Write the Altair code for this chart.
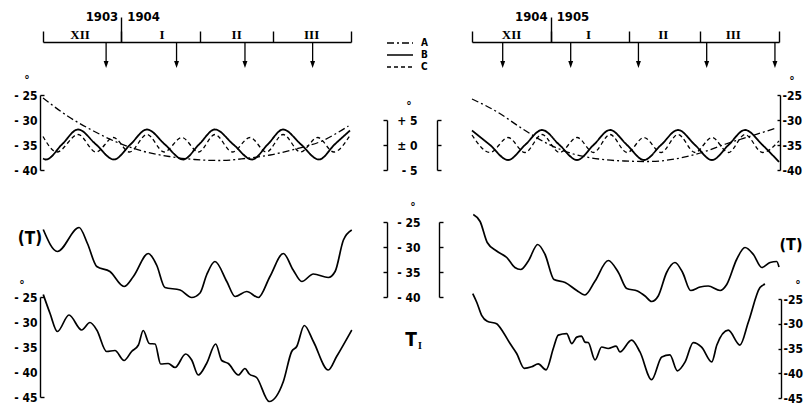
import altair as alt
import pandas as pd

W, H = 806, 405
FONT = "Liberation Sans Narrow, DejaVu Sans Condensed, Liberation Sans, sans-serif"
SERIF = "Liberation Serif, DejaVu Serif, serif"

# ---------------- data (day 0 = 1 December) ----------------
month_names = ["XII", "I", "II", "III"]
left_month_bounds = [0, 31, 62, 91, 122]
right_month_bounds = [0, 31, 62, 90, 121]
left_month_mid = [14.7, 47.1, 76.7, 106.4]
right_month_mid = [15.6, 45.9, 75.4, 103.0]
year_boundary = [31]
left_years = ["1903", "1904"]
right_years = ["1904", "1905"]
left_arrow_days = [25.0, 52.9, 80.0, 106.8]
right_arrow_days = [12.1, 38.9, 65.6, 92.5, 119.4]

series_names = ["A", "B", "C"]

upper_ticks = [-25, -30, -35, -40]
dev_ticks = [5, 0, -5]
t_ticks = [-25, -30, -35, -40]
ti_ticks = [-25, -30, -35, -40, -45]

# upper left panel
la_day = [0, 10, 20, 30, 40, 50, 60, 70, 80, 90, 100, 110, 121]
la_val = [-25.6, -29.3, -32.2, -34.6, -36.3, -37.3, -37.9, -38.1, -37.7, -37.0, -35.8, -34.3, -31.2]
lb_day = [0, 1.2, 7.5, 13.9, 21.0, 28.1, 34.6, 41.2, 48.3, 55.5, 61.8, 68.1, 75.4, 82.8, 89.0, 95.1, 102.2, 109.3, 115.5, 121.6]
lb_val = [-2.7, -2.9, 0.1, 3.1, 0.1, -2.9, 0.1, 3.1, 0.1, -2.9, 0.1, 3.1, 0.1, -2.9, 0.1, 3.1, 0.1, -2.9, 0.1, 2.9]
lc_day = [0, 5.5, 13.9, 21.0, 27.9, 34.3, 41.2, 48.0, 55.0, 61.6, 68.1, 75.0, 82.0, 88.5, 95.1, 102.0, 108.8, 115.2, 121.6]
lc_val = [1.7, -1.4, 2.1, -1.4, 1.5, -1.4, 2.1, -1.4, 1.5, -1.4, 2.1, -1.4, 1.5, -1.4, 2.1, -1.4, 1.5, -1.4, 1.9]

# upper right panel
ra_day = [0, 10, 20, 30, 40, 50, 60, 70, 80, 90, 100, 110, 120]
ra_val = [-25.8, -28.4, -31.8, -34.8, -36.8, -37.8, -38.2, -38.3, -37.8, -36.6, -34.8, -33.2, -31.6]
rb_day = [0, 7.1, 14.2, 20.9, 27.6, 34.5, 41.4, 47.9, 54.4, 61.1, 67.8, 74.5, 81.2, 87.9, 94.6, 101.1, 107.6, 114.5, 121]
rb_val = [2.9, 0, -3.0, 0, 3.0, 0, -3.0, 0, 3.0, 0, -3.0, 0, 3.0, 0, -3.0, 0, 3.0, 0, -3.4]
rc_day = [0, 7.1, 14.2, 20.9, 27.6, 34.5, 41.4, 47.9, 54.4, 61.1, 67.8, 74.5, 81.2, 87.9, 94.6, 101.1, 107.6, 114.5, 121]
rc_val = [2.0, -1.5, 1.5, -1.5, 2.1, -1.5, 1.5, -1.5, 2.1, -1.5, 1.5, -1.5, 2.1, -1.5, 1.5, -1.5, 2.1, -1.5, 0.8]

# lower left panel: (T) and T_I
lt_day = [0.1, 5.7, 14.3, 17.6, 21.3, 26.5, 32.1, 35.8, 41.7, 45.0, 48.3, 54.3, 58.9, 62.2, 64.8, 68.1, 72.8, 76.1, 80.7, 85.3, 89.9, 95.2, 99.1, 102.5, 107.1, 113.0, 115.7, 119.0, 122.3]
lt_val = [-26.5, -30.9, -26.1, -29.3, -33.9, -34.9, -37.9, -35.9, -31.3, -33.6, -38.1, -38.6, -40.1, -39.2, -35.6, -32.9, -36.9, -39.9, -38.9, -40.1, -35.9, -31.3, -34.6, -36.9, -35.4, -36.1, -34.9, -28.6, -26.6]
lti_day = [0.1, 2.8, 5.7, 10.3, 15.3, 18.6, 21.3, 25.2, 28.5, 32.1, 35.1, 37.8, 39.7, 42.1, 44.4, 46.6, 49.6, 52.3, 56.5, 58.9, 61.5, 64.8, 68.4, 70.8, 73.4, 77.4, 80.0, 81.7, 84.6, 89.6, 95.2, 98.5, 100.5, 103.5, 107.1, 113.0, 116.3, 122.3]
lti_val = [-24.5, -28.3, -31.9, -28.6, -31.6, -30.1, -31.6, -35.9, -35.7, -37.7, -35.9, -34.6, -31.7, -34.3, -34.4, -38.4, -38.3, -39.1, -36.4, -37.6, -40.6, -38.3, -34.4, -37.7, -38.3, -40.6, -39.3, -40.4, -41.1, -45.9, -41.9, -35.9, -34.9, -30.7, -33.9, -39.6, -36.9, -31.6]

# lower right panel
rt_day = [0.5, 3.2, 6.0, 9.7, 13.7, 16.9, 19.2, 22.2, 25.9, 28.8, 32.3, 36.7, 41.3, 44.5, 48.5, 53.7, 57.7, 61.0, 65.2, 68.2, 70.8, 73.4, 76.7, 80.0, 83.0, 86.2, 89.9, 93.1, 97.8, 100.4, 104.3, 107.6, 110.9, 114.2, 117.5, 120.1, 121.0]
rt_val = [-23.5, -24.9, -29.1, -30.8, -32.1, -34.1, -34.5, -32.8, -29.5, -31.5, -36.5, -37.1, -38.7, -39.6, -36.8, -32.7, -35.1, -38.3, -38.8, -39.8, -40.9, -39.8, -35.1, -33.1, -35.1, -38.7, -38.0, -37.8, -38.7, -37.5, -32.5, -30.1, -31.5, -34.1, -33.1, -32.9, -34.0]
rti_day = [0.3, 1.9, 3.8, 6.0, 9.7, 12.3, 15.0, 17.6, 20.6, 23.5, 26.1, 29.2, 32.1, 34.0, 37.3, 39.3, 41.3, 43.2, 44.5, 45.8, 48.5, 51.1, 53.7, 56.8, 58.3, 62.9, 66.2, 70.8, 74.8, 78.0, 80.9, 84.0, 87.2, 90.5, 94.5, 96.5, 101.0, 105.6, 108.9, 113.5, 115.5]
rti_val = [-23.9, -25.7, -28.3, -29.5, -30.0, -31.7, -34.0, -36.0, -39.0, -38.7, -38.1, -39.3, -34.9, -32.3, -32.0, -34.0, -32.7, -32.5, -33.7, -33.8, -37.3, -34.7, -35.0, -34.5, -35.7, -33.3, -35.7, -41.3, -36.7, -36.3, -39.5, -37.7, -33.8, -34.7, -37.7, -34.3, -31.3, -34.3, -29.7, -22.7, -22.0]


# ---------------- scales & axes ----------------
def sx(side):
    if side == "L":
        return alt.Scale(domain=[0, 122], range=[43, 351], nice=False, zero=False)
    return alt.Scale(domain=[0, 121], range=[472, 779], nice=False, zero=False)


Y_SCALES = {
    "up": ([-40, -25], [170, 95]),
    "dev": ([-5, 5], [170, 120]),
    "T": ([-40, -25], [297, 222]),
    "TIL": ([-45, -25], [397, 297]),
    "TIR": ([-45, -25], [398, 299]),
}


def sy(key):
    d, r = Y_SCALES[key]
    return alt.Scale(domain=d, range=r, nice=False, zero=False)


def yax(orient, xpos, values, labels=False, ticks=False, domain=False,
        tick_size=4, expr=None, pad=2, align=None):
    kw = dict(
        orient=orient,
        offset=(-xpos if orient == "left" else xpos - W),
        values=values, labels=labels, ticks=ticks, domain=domain,
        tickSize=(tick_size if ticks else 0), labelPadding=pad,
        grid=False, title=None, domainColor="black", tickColor="black",
        labelColor="black", labelFont=FONT, labelFontSize=12,
        labelFontWeight="bold", domainWidth=1.4, tickWidth=1.4,
        labelOverlap=False,
    )
    if expr:
        kw["labelExpr"] = expr
    if align:
        kw["labelAlign"] = align
    return alt.Axis(**kw)


def xax_top(values, tick_size, domain):
    return alt.Axis(orient="top", offset=-42, values=values, labels=False,
                    ticks=True, tickSize=tick_size, domain=domain, grid=False,
                    title=None, domainColor="black", tickColor="black",
                    domainWidth=1.4, tickWidth=1.4)


EXPR_LEFT = "'- ' + abs(datum.value)"
EXPR_DEV = "datum.value > 0 ? '+ ' + datum.value : (datum.value == 0 ? '\u00b1 0' : '- ' + abs(datum.value))"
EXPR_RIGHT = "'-' + abs(datum.value)"

dash_scale = alt.Scale(domain=series_names, range=[[7, 3, 2, 3], [1, 0], [4, 3]])
legend = alt.Legend(orient="none", legendX=386, legendY=37, title=None,
                    symbolType="stroke", symbolSize=676, symbolStrokeWidth=1.4,
                    symbolStrokeColor="black", labelFont=FONT, labelFontSize=10,
                    labelFontWeight="bold", labelColor="black", labelOffset=7,
                    clipHeight=12, rowPadding=0, padding=0)


def curve(days, vals, side, ykey, axis=None, series=None, width=1.5, leg=None):
    df = pd.DataFrame({"day": days, "val": vals})
    enc = dict(
        x=alt.X("day:Q", scale=sx(side), axis=None),
        y=alt.Y("val:Q", scale=sy(ykey), axis=axis),
    )
    if series is not None:
        df["series"] = series
        enc["strokeDash"] = alt.StrokeDash("series:N", scale=dash_scale, legend=leg)
    return alt.Chart(df).mark_line(color="black", strokeWidth=width,
                                   interpolate="monotone").encode(**enc)


def host(values, ykey, axis):
    return alt.Chart(pd.DataFrame({"v": values})).mark_point(opacity=0).encode(
        x=alt.value(0), y=alt.Y("v:Q", scale=sy(ykey), axis=axis))


def label(text, x, y, size, font=FONT, weight="bold", align="center"):
    return alt.Chart(pd.DataFrame({"t": [text]})).mark_text(
        font=font, fontSize=size, fontWeight=weight, align=align,
        baseline="middle", color="black").encode(
        x=alt.value(x), y=alt.value(y), text="t:N")


ARROW = "M-0.7,-1L0.7,-1L0,1Z"


def timeline(side, bounds, mids, arrows, years):
    arr = pd.DataFrame({"day": arrows})
    rules = alt.Chart(arr).mark_rule(color="black", strokeWidth=1.3).encode(
        x=alt.X("day:Q", scale=sx(side), axis=xax_top(bounds, 11, True)),
        y=alt.value(42), y2=alt.value(62))
    heads = alt.Chart(arr).mark_point(shape=ARROW, filled=True, size=49,
                                      color="black", opacity=1).encode(
        x=alt.X("day:Q", scale=sx(side), axis=xax_top(year_boundary, 25, False)),
        y=alt.value(64.5))
    months = alt.Chart(pd.DataFrame({"day": mids, "m": month_names})).mark_text(
        font=SERIF, fontSize=13, fontWeight="bold", baseline="middle",
        color="black").encode(
        x=alt.X("day:Q", scale=sx(side), axis=None), y=alt.value(35), text="m:N")
    y1 = alt.Chart(pd.DataFrame({"day": year_boundary, "y": [years[0]]})).mark_text(
        font=FONT, fontSize=13, fontWeight="bold", align="right", dx=-3,
        baseline="middle", color="black").encode(
        x=alt.X("day:Q", scale=sx(side), axis=None), y=alt.value(17), text="y:N")
    y2 = alt.Chart(pd.DataFrame({"day": year_boundary, "y": [years[1]]})).mark_text(
        font=FONT, fontSize=13, fontWeight="bold", align="left", dx=6,
        baseline="middle", color="black").encode(
        x=alt.X("day:Q", scale=sx(side), axis=None), y=alt.value(17), text="y:N")
    return [rules, heads, months, y1, y2]


layers = []
layers += timeline("L", left_month_bounds, left_month_mid, left_arrow_days, left_years)
layers += timeline("R", right_month_bounds, right_month_mid, right_arrow_days, right_years)

# upper panels
layers.append(curve(la_day, la_val, "L", "up",
                    axis=yax("left", 40, upper_ticks, labels=True, domain=True, pad=3, expr=EXPR_LEFT),
                    series="A", width=1.3, leg=legend))
layers.append(host([-25, -40], "up", yax("right", 40, [-25, -40], ticks=True, tick_size=4)))
layers.append(curve(lb_day, lb_val, "L", "dev",
                    axis=yax("left", 387, dev_ticks, ticks=True, domain=True),
                    series="B", width=1.8))
layers.append(curve(lc_day, lc_val, "L", "dev",
                    axis=yax("left", 417, dev_ticks, labels=True, pad=0, expr=EXPR_DEV),
                    series="C", width=1.3))
layers.append(curve(ra_day, ra_val, "R", "up",
                    axis=yax("right", 780, upper_ticks, labels=True, domain=True, pad=2, expr=EXPR_RIGHT),
                    series="A", width=1.3))
layers.append(host(upper_ticks, "up", yax("left", 780, upper_ticks, ticks=True, tick_size=3)))
layers.append(curve(rb_day, rb_val, "R", "dev",
                    axis=yax("right", 437, dev_ticks, ticks=True, domain=True),
                    series="B", width=1.8))
layers.append(curve(rc_day, rc_val, "R", "dev", series="C", width=1.3))

# lower panels
layers.append(curve(lt_day, lt_val, "L", "T",
                    axis=yax("left", 387, t_ticks, ticks=True, domain=True), width=1.7))
layers.append(host(t_ticks, "T", yax("left", 420, t_ticks, labels=True, pad=0, expr=EXPR_LEFT)))
layers.append(curve(rt_day, rt_val, "R", "T",
                    axis=yax("right", 439, t_ticks, ticks=True, domain=True), width=1.7))
layers.append(curve(lti_day, lti_val, "L", "TIL",
                    axis=yax("left", 40, ti_ticks, labels=True, domain=True, pad=3, expr=EXPR_LEFT),
                    width=1.7))
layers.append(host([-25, -45], "TIL", yax("right", 40, [-25, -45], ticks=True, tick_size=4)))
layers.append(curve(rti_day, rti_val, "R", "TIR",
                    axis=yax("right", 781, ti_ticks, labels=True, domain=True, pad=2, expr=EXPR_RIGHT),
                    width=1.7))
layers.append(host(ti_ticks, "TIR", yax("left", 781, ti_ticks, ticks=True, tick_size=3)))

# annotations
layers += [
    label("\u00b0", 27, 80, 12),
    label("\u00b0", 409, 106, 12),
    label("\u00b0", 792, 81, 12),
    label("\u00b0", 413, 207, 12),
    label("\u00b0", 22, 285, 12),
    label("\u00b0", 798, 285, 12),
    label("(T)", 30, 239, 17),
    label("(T)", 791, 245, 16),
    label("T", 411, 340, 19),
    label("I", 420, 346, 10, font=SERIF),
]

chart = alt.layer(*layers).resolve_scale(
    x="independent", y="independent", strokeDash="shared"
).properties(
    width=W, height=H, padding=0, background="white",
    autosize=alt.AutoSizeParams(type="none"),
).configure_view(stroke=None)

chart.save("out.html", embed_options={"renderer": "svg", "actions": False})
